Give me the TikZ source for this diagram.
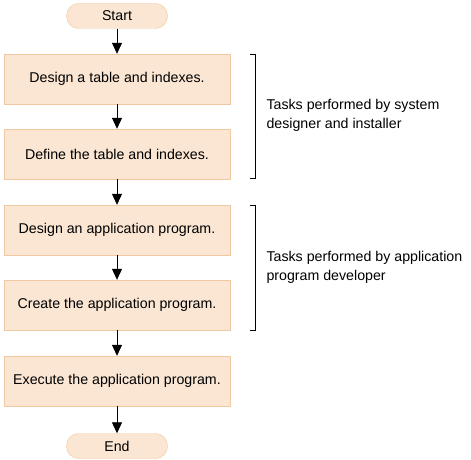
\documentclass[tikz,border=0pt]{standalone}
\usepackage{fontspec}
\setmainfont{Liberation Sans}
\usetikzlibrary{arrows.meta}
\definecolor{boxfill}{HTML}{FAE6D3}
\definecolor{boxline}{HTML}{F0C9A3}
\begin{document}
\begin{tikzpicture}[x=1pt, y=-1pt,
    every node/.style={font=\fontsize{14.2}{19}\selectfont},
    step box/.style={draw=boxline, fill=boxfill, minimum width=226pt, minimum height=50pt, inner sep=0pt},
    terminal/.style={draw=boxline, fill=boxfill, rounded corners=12pt, minimum width=101pt, minimum height=25pt, inner sep=0pt},
    flow/.style={-{Triangle[length=11pt,width=10pt]}, line width=0.8pt}]
  \useasboundingbox (0,0) rectangle (471,460);

  % Flow
  \node (start)[terminal] at (117,16) {Start};
  \node (design)[step box] at (117,79) {Design a table and indexes.};
  \node (define)[step box] at (117,154) {Define the table and indexes.};
  \node (app)[step box] at (117,230) {Design an application program.};
  \node (create)[step box] at (117,305) {Create the application program.};
  \node (exec)[step box] at (117,381) {Execute the application program.};
  \node (end)[terminal] at (117,446) {End};

  \draw[flow] (start) -- (design);
  \draw[flow] (design) -- (define);
  \draw[flow] (define) -- (app);
  \draw[flow] (app) -- (create);
  \draw[flow] (create) -- (exec);
  \draw[flow] (exec) -- (end);

  % Brackets
  \draw[line width=0.8pt] (250,54) -- (255.5,54) -- (255.5,178) -- (250,178);
  \node (sys)[anchor=west, align=left] at (263,115) {Tasks performed by system\\designer and installer};

  \draw[line width=0.8pt] (250,205) -- (255.5,205) -- (255.5,330) -- (250,330);
  \node (dev)[anchor=west, align=left] at (263,267) {Tasks performed by application\\program developer};
\end{tikzpicture}
\end{document}
